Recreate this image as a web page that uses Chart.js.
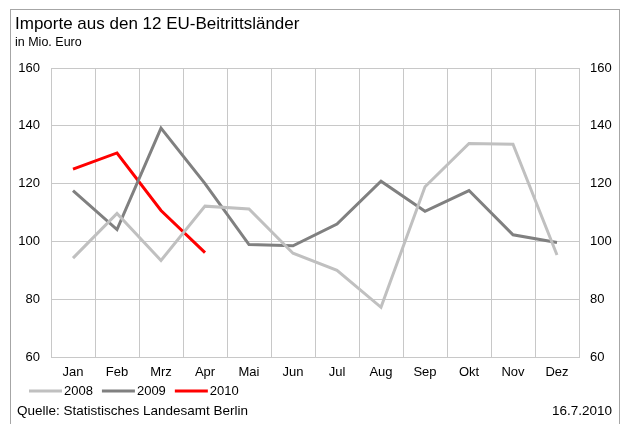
<!DOCTYPE html>
<html lang="de">
<head>
<meta charset="utf-8">
<title>Importe aus den 12 EU-Beitrittsländer</title>
<script src="https://cdn.jsdelivr.net/npm/chart.js@4/dist/chart.umd.min.js"></script>
<style>
    html, body {
        margin: 0;
        padding: 0;
        background: #ffffff;
    }

    #chartBox {
        position: relative;
        width: 621px;
        height: 424px;
    }
</style>
</head>
<body>
<div id="chartBox">
    <canvas id="importChart" width="621" height="424"></canvas>
</div>
<script>
const months = ["Jan", "Feb", "Mrz", "Apr", "Mai", "Jun", "Jul", "Aug", "Sep", "Okt", "Nov", "Dez"];

const imports2008 = [94.2, 109.7, 93.4, 112.2, 111.2, 95.9, 90.0, 77.2, 118.9, 133.9, 133.6, 95.3];
const imports2009 = [117.6, 104.1, 139.2, 120.0, 98.9, 98.5, 106.0, 120.8, 110.4, 117.6, 102.3, 99.6];
const imports2010 = [125.0, 130.6, 110.7, 96.1];

const yTicks = [60, 80, 100, 120, 140, 160];

const titleText = "Importe aus den 12 EU-Beitrittsländer";
const subtitleText = "in Mio. Euro";
const sourceText = "Quelle: Statistisches Landesamt Berlin";
const dateText = "16.7.2010";

const fontFamily = "'Liberation Sans', Arial, sans-serif";
const gridColor = "#c8c8c8";

// frame, heading, legend and footer are painted straight on the canvas
const decorations = {
    id: "decorations",
    beforeDraw(chart) {
        const ctx = chart.ctx;

        ctx.save();
        ctx.fillStyle = "#ffffff";
        ctx.fillRect(0, 0, chart.width, chart.height);
        ctx.strokeStyle = "#a6a6a6";
        ctx.lineWidth = 1;
        ctx.strokeRect(10.5, 9.5, 609, 430);
        ctx.restore();
    },
    afterDraw(chart) {
        const ctx = chart.ctx;

        ctx.save();
        ctx.fillStyle = "#000000";
        ctx.textBaseline = "middle";
        ctx.textAlign = "left";

        ctx.font = `17px ${fontFamily}`;
        ctx.fillText(titleText, 15, 24);

        ctx.font = `12.5px ${fontFamily}`;
        ctx.fillText(subtitleText, 15, 43);

        // legend: short line sample followed by the series name
        ctx.font = `13px ${fontFamily}`;
        let x = 29;
        const legendY = 391;

        for (const dataset of chart.data.datasets) {
            ctx.strokeStyle = dataset.borderColor;
            ctx.lineWidth = 3;
            ctx.beginPath();
            ctx.moveTo(x, legendY);
            ctx.lineTo(x + 33, legendY);
            ctx.stroke();

            ctx.fillText(dataset.label, x + 35, legendY);
            x += 35 + ctx.measureText(dataset.label).width + 9;
        }

        ctx.font = `13.5px ${fontFamily}`;
        ctx.fillText(sourceText, 17, 411);

        ctx.textAlign = "right";
        ctx.fillText(dateText, 612, 411);
        ctx.restore();
    }
};

function makeSeries(label, data, color) {
    return {
        label,
        data,
        borderColor: color,
        backgroundColor: color,
        borderWidth: 3,
        pointRadius: 0,
        pointHoverRadius: 0,
        tension: 0,
        fill: false
    };
}

document.addEventListener("DOMContentLoaded", () => {
    const canvas = document.getElementById("importChart");
    const ctx = canvas.getContext("2d");

    const tickFont = { family: fontFamily, size: 13 };

    window.importChart = new Chart(ctx, {
        type: "line",
        data: {
            labels: months,
            datasets: [
                makeSeries("2008", imports2008, "#c0c0c0"),
                makeSeries("2009", imports2009, "#808080"),
                makeSeries("2010", imports2010, "#ff0000")
            ]
        },
        options: {
            responsive: false,
            devicePixelRatio: 1,
            animation: false,
            layout: {
                padding: { top: 68, bottom: 37, left: 0, right: 0 }
            },
            plugins: {
                legend: { display: false },
                title: { display: false },
                tooltip: { enabled: false }
            },
            scales: {
                x: {
                    offset: true,
                    grid: {
                        offset: true,
                        color: gridColor,
                        drawTicks: false
                    },
                    border: { color: gridColor },
                    ticks: {
                        font: tickFont,
                        color: "#000000",
                        padding: 8,
                        maxRotation: 0
                    },
                    afterFit(scale) {
                        scale.height = 30;
                    }
                },
                y: {
                    position: "left",
                    min: 60,
                    max: 160,
                    grid: {
                        color: gridColor,
                        drawTicks: false
                    },
                    border: { color: gridColor },
                    afterBuildTicks(scale) {
                        scale.ticks = yTicks.map(value => ({ value }));
                    },
                    ticks: {
                        font: tickFont,
                        color: "#000000",
                        padding: 11
                    },
                    afterFit(scale) {
                        scale.width = 51;
                    }
                },
                y2: {
                    position: "right",
                    min: 60,
                    max: 160,
                    grid: {
                        display: false,
                        drawTicks: false
                    },
                    border: { display: false },
                    afterBuildTicks(scale) {
                        scale.ticks = yTicks.map(value => ({ value }));
                    },
                    ticks: {
                        font: tickFont,
                        color: "#000000",
                        padding: 11
                    },
                    afterFit(scale) {
                        scale.width = 42;
                    }
                }
            }
        },
        plugins: [decorations]
    });
});
</script>
</body>
</html>
